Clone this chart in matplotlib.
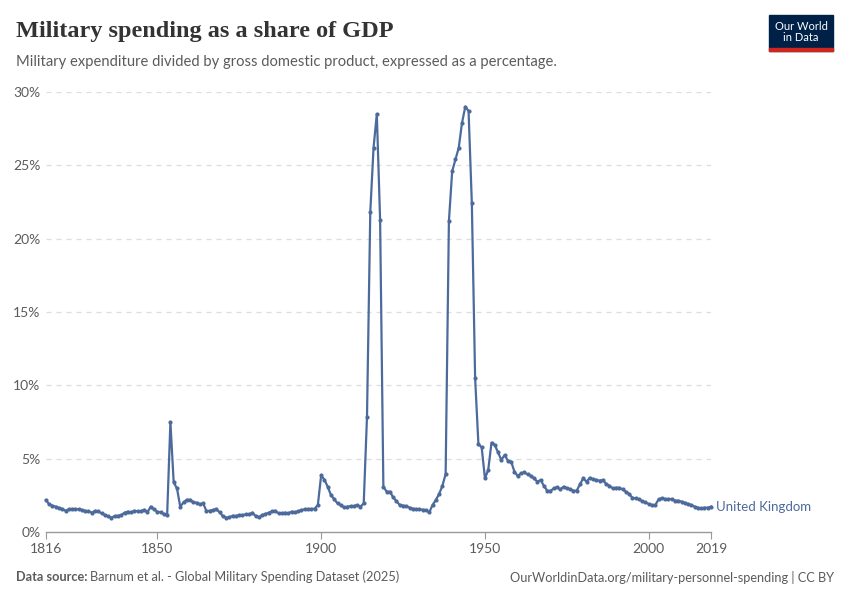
import matplotlib.pyplot as plt
from matplotlib.patches import Rectangle

# UK military spending, % of GDP, 1816-2019
years = list(range(1816, 2020))
share = [
  # 1816-1829
  2.18, 1.89, 1.80, 1.73, 1.64, 1.57, 1.45, 1.55, 1.57, 1.57, 1.55, 1.50, 1.45, 1.41,
  # 1830-1849
  1.32, 1.45, 1.41, 1.27, 1.16, 1.07, 0.98, 1.09, 1.11, 1.16,
  1.32, 1.39, 1.34, 1.45, 1.41, 1.41, 1.52, 1.36, 1.73, 1.55,
  # 1850-1869
  1.39, 1.34, 1.23, 1.14, 7.50, 3.38, 2.98, 1.73, 2.02, 2.20,
  2.20, 2.02, 2.00, 1.89, 1.95, 1.43, 1.45, 1.50, 1.57, 1.34,
  # 1870-1889
  1.09, 0.98, 1.00, 1.11, 1.09, 1.16, 1.16, 1.20, 1.20, 1.32,
  1.09, 1.00, 1.16, 1.23, 1.32, 1.41, 1.45, 1.27, 1.27, 1.32,
  # 1890-1909
  1.27, 1.39, 1.36, 1.41, 1.50, 1.55, 1.57, 1.57, 1.59, 1.84,
  3.86, 3.57, 3.09, 2.52, 2.23, 1.95, 1.84, 1.68, 1.73, 1.77,
  # 1910-1929
  1.77, 1.84, 1.73, 1.95, 7.86, 21.8, 26.2, 28.5, 21.3, 3.09,
  2.75, 2.75, 2.36, 2.11, 1.84, 1.80, 1.77, 1.66, 1.59, 1.57,
  # 1930-1949
  1.55, 1.52, 1.50, 1.34, 1.84, 2.18, 2.59, 3.14, 3.95, 21.2,
  24.6, 25.4, 26.2, 27.9, 29.0, 28.7, 22.4, 10.5, 6.00, 5.77,
  # 1950-1969
  3.66, 4.23, 6.09, 5.93, 5.43, 4.91, 5.25, 4.86, 4.80, 4.11,
  3.82, 4.00, 4.07, 3.93, 3.84, 3.66, 3.43, 3.55, 3.14, 2.82,
  # 1970-1989
  2.80, 2.98, 3.05, 2.91, 3.09, 2.98, 2.91, 2.82, 2.82, 3.25,
  3.66, 3.43, 3.70, 3.59, 3.55, 3.50, 3.55, 3.27, 3.16, 2.98,
  # 1990-2009
  3.02, 3.02, 2.91, 2.75, 2.59, 2.34, 2.30, 2.23, 2.11, 2.02,
  1.91, 1.84, 1.84, 2.23, 2.30, 2.25, 2.25, 2.25, 2.14, 2.14,
  # 2010-2019
  2.07, 2.00, 1.91, 1.84, 1.73, 1.66, 1.61, 1.66, 1.66, 1.73,
]

yticks = [0, 5, 10, 15, 20, 25, 30]
xticks = [1816, 1850, 1900, 1950, 2000, 2019]

line_color = "#4c6a9c"
grey = "#5b5b5b"

plt.rcParams['font.family'] = ['Lato', 'DejaVu Sans']

fig = plt.figure(figsize=(8.5, 6), dpi=100)
ax = fig.add_axes([0.054, 0.1133, 0.7825, 0.7334])

ax.plot(years, share, color=line_color, linewidth=1.6, marker='o', markersize=3,
        markeredgewidth=0, clip_on=False, zorder=3)

ax.set_xlim(1816, 2019)
ax.set_ylim(0, 30)
ax.set_yticks(yticks)
ax.set_yticklabels([f"{v}%" for v in yticks])
ax.set_xticks(xticks)
ax.set_xticklabels([str(v) for v in xticks])

for v in yticks[1:]:
  ax.axhline(v, color="#dddddd", linewidth=0.9, linestyle=(0, (4, 4)), zorder=1)

for s in ['top', 'right', 'left']:
  ax.spines[s].set_visible(False)
ax.spines['bottom'].set_color("#999999")
ax.spines['bottom'].set_linewidth(1)

ax.tick_params(axis='y', length=0, labelsize=10, labelcolor=grey, pad=4)
ax.tick_params(axis='x', length=5, color="#999999", labelsize=10, labelcolor=grey, pad=3)

ax.text(2020.5, share[-1], "United Kingdom", color=line_color, fontsize=9.5,
        va='center', ha='left')

# header
fig.text(16/850, 1 - 32/600, "Military spending as a share of GDP", fontsize=17.5,
         fontweight='bold', family=['Liberation Serif'], color="#333333", va='center')
fig.text(16/850, 1 - 62/600,
         "Military expenditure divided by gross domestic product, expressed as a percentage.",
         fontsize=10.65, color=grey, va='center')

# logo
fig.patches.append(Rectangle((769/850, 1 - 51/600), 64/850, 36/600,
                             transform=fig.transFigure, color="#002147", zorder=5))
fig.patches.append(Rectangle((769/850, 1 - 51/600), 64/850, 3/600,
                             transform=fig.transFigure, color="#ce261e", zorder=6))
fig.text(801/850, 1 - 32/600, "Our World\nin Data", color="white", fontsize=8,
         ha='center', va='center', linespacing=1.0, zorder=7)

# footer
fig.text(16/850, 1 - 577/600, "Data source:", fontsize=9.2, fontweight='bold',
         color=grey, va='center')
fig.text(90/850, 1 - 577/600, "Barnum et al. - Global Military Spending Dataset (2025)",
         fontsize=9.2, color=grey, va='center')
fig.text(834/850, 1 - 577/600, "OurWorldinData.org/military-personnel-spending | CC BY",
         fontsize=9.2, color=grey, va='center', ha='right')

plt.savefig("out.png", dpi=100)
